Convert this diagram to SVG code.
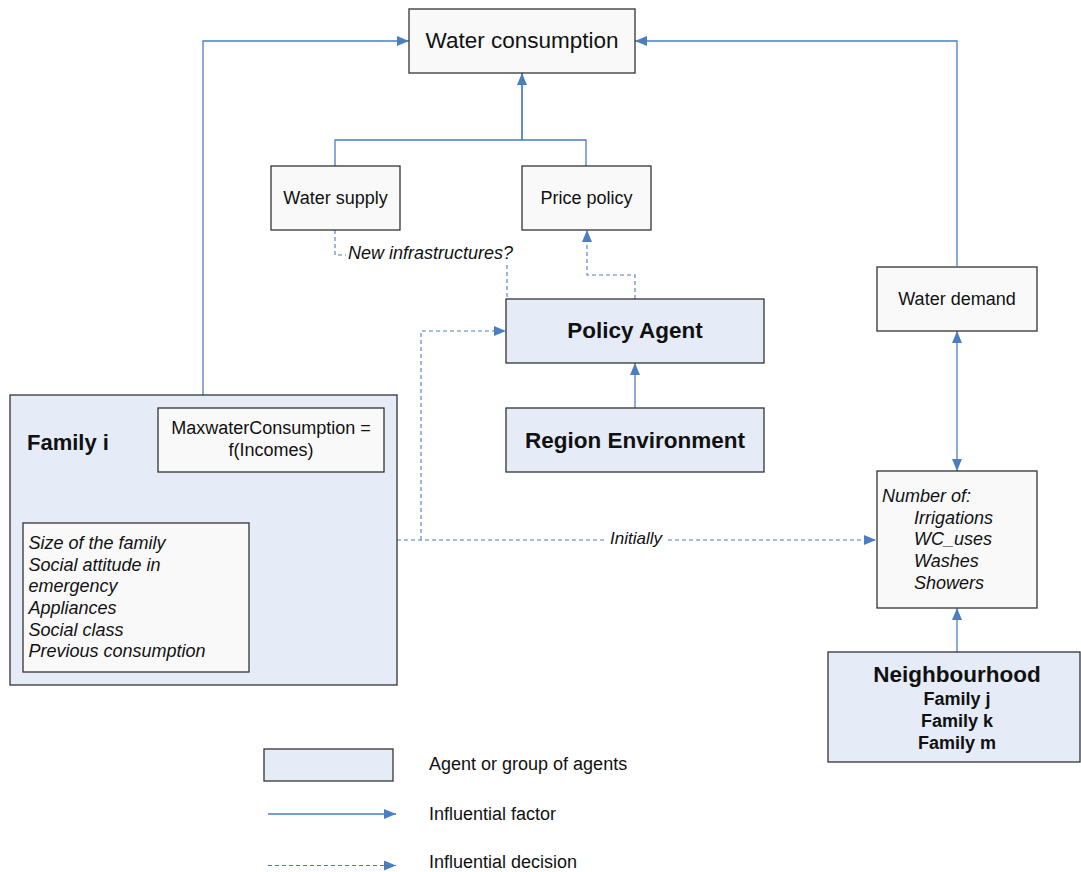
<svg xmlns="http://www.w3.org/2000/svg" width="1081" height="872" viewBox="0 0 1081 872">
<style>
.box{fill:#f9f9f9;stroke:#333;stroke-width:1.3}
.agent{fill:#e6ecf7;stroke:#333;stroke-width:1.3}
.t{font-family:"Liberation Sans",Arial,sans-serif;fill:#111}
.c{text-anchor:middle}
.b{font-weight:bold}
.i{font-style:italic}
.solid{fill:none;stroke:#4a7ebf;stroke-width:1.3}
.dash{fill:none;stroke:#4a7ebf;stroke-width:1.1;stroke-dasharray:4 3}
</style>
<defs>
<marker id="ah" viewBox="0 0 12 10" refX="12" refY="5" markerWidth="12" markerHeight="10" markerUnits="userSpaceOnUse" orient="auto-start-reverse">
<path d="M0,0 L12,5 L0,10 Z" fill="#4a7ebf"/>
</marker>
</defs>
<rect width="1081" height="872" fill="#fff"/>
<g id="connectors">
<path class="solid" d="M203,395 V41 H409" marker-end="url(#ah)"/>
<path class="solid" d="M957,266 V41 H635" marker-end="url(#ah)"/>
<path class="solid" d="M335,166 V140 H586 V166 M522,140 V73" />
<path class="solid" d="M522,140 V73" marker-end="url(#ah)"/>
<path class="dash" d="M335,230 V255 H346"/>
<path class="dash" d="M507,265 V299"/>
<path class="dash" d="M635,299 V275 H587 V230" marker-end="url(#ah)"/>
<path class="dash" d="M421,540 V331 H506" marker-end="url(#ah)"/>
<path class="solid" d="M635,408 V363" marker-end="url(#ah)"/>
<path class="dash" d="M397,540 H605 M668,540 H876" marker-end="url(#ah)"/>
<path class="solid" d="M957,331 V471" marker-start="url(#ah)" marker-end="url(#ah)"/>
<path class="solid" d="M957,652 V608" marker-end="url(#ah)"/>
<text class="t i c" x="636" y="544" font-size="17">Initially</text>
<text class="t i" x="348" y="259" font-size="18">New infrastructures?</text>
</g>
<g id="water-consumption">
<rect class="box" x="409" y="9" width="226" height="64"/>
<text class="t c" x="522" y="48" font-size="22.5">Water consumption</text>
</g>
<g id="water-supply">
<rect class="box" x="271" y="166" width="129" height="64"/>
<text class="t c" x="335.5" y="203.5" font-size="18">Water supply</text>
</g>
<g id="price-policy">
<rect class="box" x="522" y="166" width="129" height="64"/>
<text class="t c" x="586.5" y="203.5" font-size="18">Price policy</text>
</g>
<g id="policy-agent">
<rect class="agent" x="506" y="299" width="258" height="64"/>
<text class="t c b" x="635" y="338" font-size="22.5">Policy Agent</text>
</g>
<g id="region-environment">
<rect class="agent" x="506" y="408" width="258" height="64"/>
<text class="t c b" x="635" y="448" font-size="22.5">Region Environment</text>
</g>
<g id="family-i">
<rect class="agent" x="10" y="395" width="387" height="290"/>
<text class="t b" x="27" y="450" font-size="22">Family i</text>
<rect class="box" x="158" y="408" width="226" height="64"/>
<text class="t c" x="271" y="434" font-size="18">MaxwaterConsumption =</text>
<text class="t c" x="271" y="456" font-size="18">f(Incomes)</text>
<rect class="box" x="23" y="523" width="226" height="149"/>
<g class="t i" font-size="18">
<text x="28.5" y="549">Size of the family</text>
<text x="28.5" y="570.5">Social attitude in</text>
<text x="28.5" y="592">emergency</text>
<text x="28.5" y="613.5">Appliances</text>
<text x="28.5" y="635.5">Social class</text>
<text x="28.5" y="657">Previous consumption</text>
</g>
</g>
<g id="water-demand">
<rect class="box" x="877" y="267" width="160" height="64"/>
<text class="t c" x="957" y="304.5" font-size="18">Water demand</text>
</g>
<g id="number-of">
<rect class="box" x="877" y="471" width="160" height="137"/>
<g class="t i" font-size="18">
<text x="882" y="501.5">Number of:</text>
<text x="914" y="523.5">Irrigations</text>
<text x="914" y="545">WC_uses</text>
<text x="914" y="567">Washes</text>
<text x="914" y="588.5">Showers</text>
</g>
</g>
<g id="neighbourhood">
<rect class="agent" x="828" y="652" width="252" height="110"/>
<text class="t c b" x="957" y="682" font-size="22.5">Neighbourhood</text>
<text class="t c b" x="957" y="705" font-size="18">Family j</text>
<text class="t c b" x="957" y="727" font-size="18">Family k</text>
<text class="t c b" x="957" y="748.5" font-size="18">Family m</text>
</g>
<g id="legend">
<rect class="agent" x="264" y="749" width="129" height="32"/>
<text class="t" x="429" y="770" font-size="18">Agent or group of agents</text>
<path class="solid" d="M268,814 H396" marker-end="url(#ah)"/>
<text class="t" x="429" y="820" font-size="18">Influential factor</text>
<path class="dash" d="M268,865.5 H396" marker-end="url(#ah)"/>
<text class="t" x="429" y="868" font-size="18">Influential decision</text>
</g>
</svg>
